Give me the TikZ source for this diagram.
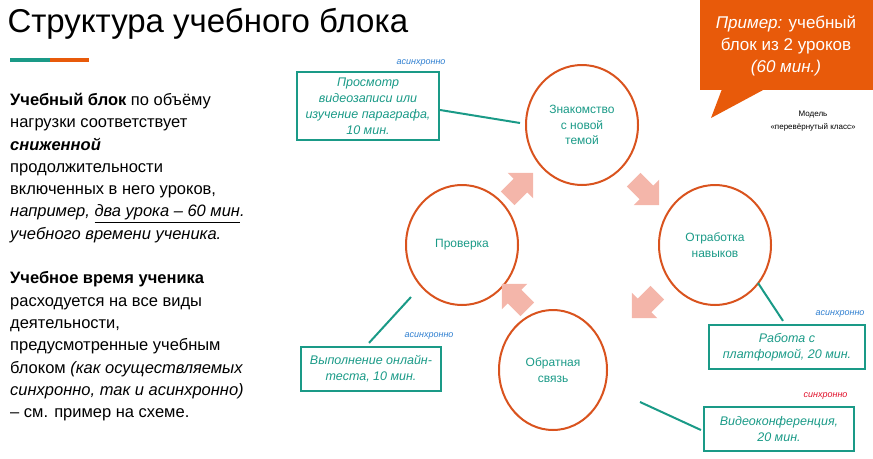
\documentclass[tikz,border=0pt]{standalone}
\usepackage{fontspec}
\setmainfont{Liberation Sans}
\usetikzlibrary{shapes.geometric,shapes.arrows,shapes.callouts}
\definecolor{teal1}{HTML}{1A9A87}
\definecolor{orng}{HTML}{E85A0A}
\definecolor{ring}{HTML}{D9531E}
\definecolor{pink1}{HTML}{F4B6AA}
\definecolor{blue1}{HTML}{2F7FD0}
\definecolor{red1}{HTML}{E0102A}
\tikzset{
  stage/.style={ellipse,draw=ring,line width=2pt,minimum width=112pt,minimum height=120pt,
    text=teal1,align=center,font=\fontsize{12}{15.5}\selectfont},
  task/.style={draw=teal1,line width=2.2pt,align=center,text=teal1,
    font=\fontsize{12.5}{16}\selectfont\itshape,inner sep=2pt},
  mode/.style={font=\fontsize{9}{10}\selectfont\itshape,anchor=south east},
  flow/.style={single arrow,fill=pink1,minimum height=36pt,minimum width=36pt,
    single arrow head extend=7pt,inner sep=8pt},
  link/.style={teal1,line width=2pt}
}
\begin{document}
\begin{tikzpicture}[x=1pt,y=-1pt]
\useasboundingbox (0,0) rectangle (873,458);
% title
\node[anchor=west,font=\fontsize{33}{36}\selectfont] (title) at (4,24) {Структура учебного блока};
\fill[teal1] (10,58) rectangle (50,62);
\fill[orng] (50,58) rectangle (89,62);
% left text
\node[anchor=north west,align=left,inner sep=0pt,font=\fontsize{16.5}{22.3}\selectfont] (body) at (10,93)
{\textbf{Учебный блок} по объёму\\
нагрузки соответствует\\
\textbf{\textit{сниженной}}\\
продолжительности\\
включенных в него уроков,\\
\textit{например, \underline{два урока – 60 мин}.}\\
\textit{учебного времени ученика.}\\[22.3pt]
\textbf{Учебное время ученика}\\
расходуется на все виды\\
деятельности,\\
предусмотренные учебным\\
блоком \textit{(как осуществляемых}\\
\textit{синхронно, так и асинхронно)}\\
– см. пример на схеме.};
% callout
\fill[orng] (700,0) rectangle (873,90);
\fill[orng] (722,89) -- (711,118) -- (765,89) -- cycle;
\node[text=white,align=center,font=\fontsize{17}{22}\selectfont] (example) at (786,46)
{\textit{Пример:} учебный\\блок из 2 уроков\\\textit{(60 мин.)}};
\node[align=center,font=\fontsize{8}{13}\selectfont] (model) at (813,121) {Модель\\«перевёрнутый класс»};
% stages
\node[stage] (intro) at (582,125) {Знакомство\\с новой\\темой};
\node[stage] (check) at (462,245) {Проверка};
\node[stage] (skill) at (715,245) {Отработка\\навыков};
\node[stage,minimum width=108pt] (feedback) at (553,370) {Обратная\\связь};
% flow arrows
\node[flow,rotate=45] (a1) at (517,189) {};
\node[flow,rotate=-45] (a2) at (643,189) {};
\node[flow,rotate=-135] (a3) at (648,302) {};
\node[flow,rotate=135] (a4) at (518,300) {};
% tasks
\node[task,minimum width=142pt,minimum height=68pt] (video) at (368,106)
{Просмотр\\видеозаписи или\\изучение параграфа,\\10 мин.};
\node[mode,text=blue1] (m1) at (449,70) {асинхронно};
\node[task,minimum width=140pt,minimum height=44pt] (test) at (371,369)
{Выполнение онлайн-\\теста, 10 мин.};
\node[mode,text=blue1] (m2) at (457,343) {асинхронно};
\node[task,minimum width=156pt,minimum height=44pt] (platform) at (787,347)
{Работа с\\платформой, 20 мин.};
\node[mode,text=blue1] (m3) at (868,321) {асинхронно};
\node[task,minimum width=150pt,minimum height=44pt] (conf) at (779,429)
{Видеоконференция,\\20 мин.};
\node[mode,text=red1] (m4) at (851,403) {синхронно};
% links
\coordinate (c1) at (520,123);
\coordinate (c2) at (411,297);
\coordinate (c3) at (758,283);
\coordinate (c4) at (640,402);
\draw[link] (video.east |- 0,110) -- (c1);
\draw[link] (test.north) ++(-2,-3) -- (c2);
\draw[link] (platform.north) ++(-4,-3) -- (c3);
\draw[link] (conf.west) ++(-2,1) -- (c4);
\end{tikzpicture}
\end{document}
